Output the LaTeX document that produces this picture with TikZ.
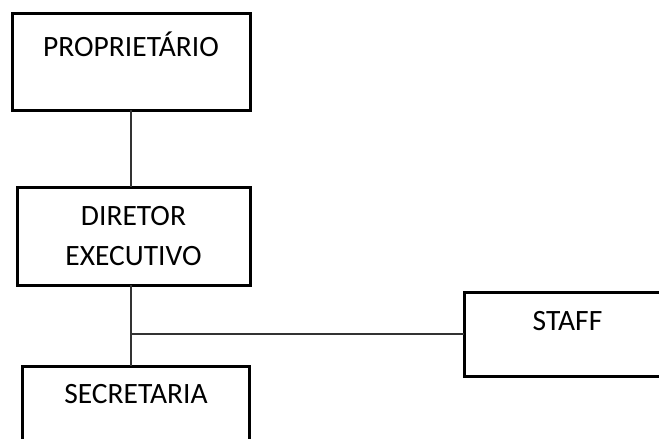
\documentclass[tikz,border=0pt]{standalone}
\usepackage{fontspec}
\setmainfont{Carlito}
\begin{document}
\begin{tikzpicture}[x=1pt, y=-1pt,
        cargo/.style={draw, line width=3pt, inner sep=0pt, outer sep=0pt, align=center, font=\fontsize{29.5}{40}\selectfont},
        ligacao/.style={draw, black!80, line width=1.2pt}]
    \useasboundingbox (0,0) rectangle (659,439);
    \node[cargo, minimum width=238pt, text height=43pt, text depth=54pt] (prop) at (131,61.5) {PROPRIETÁRIO};
    \node[cargo, minimum width=233pt, text height=78pt, text depth=20pt] (dir) at (133.5,236) {DIRETOR\\EXECUTIVO};
    \node[cargo, minimum width=207pt, text height=38pt, text depth=46pt] (staff) at (567.5,334) {STAFF};
    \node[cargo, minimum width=227pt, text height=37pt, text depth=61pt] (sec) at (136,415) {SECRETARIA};
    \path[ligacao] (prop.south) -- (prop.south |- dir.north);
    \path[ligacao] (prop.south |- dir.south) -- (prop.south |- sec.north);
    \path[ligacao] (staff.west) -- (staff.west -| prop.south);
\end{tikzpicture}
\end{document}
